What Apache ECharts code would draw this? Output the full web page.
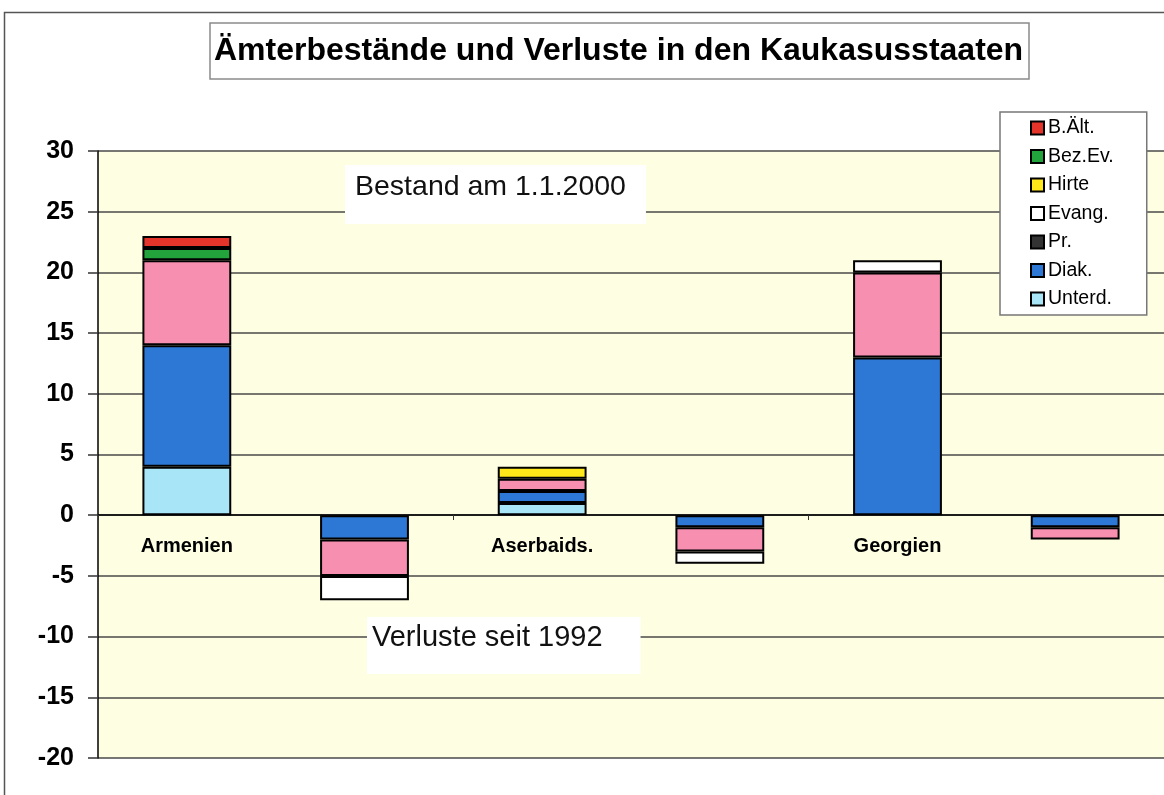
<!DOCTYPE html>
<html>
<head>
<meta charset="utf-8">
<title>Ämterbestände und Verluste in den Kaukasusstaaten</title>
<script src="https://cdn.jsdelivr.net/npm/echarts@6/dist/echarts.min.js"></script>
<style>
  html, body { margin: 0; padding: 0; background: #fff; }
  #chart { width: 1164px; height: 795px; }
</style>
</head>
<body>
<div id="chart"></div>
<script>
// categories: each country followed by its losses column (no label)
const categories = ['Armenien', 'Armenien Verluste', 'Aserbaids.', 'Aserbaids. Verluste', 'Georgien', 'Georgien Verluste']

// values per office, '-' = none
const unterd = [4, '-', 1, '-', '-', '-']
const diak   = [10, -2, 1, -1, 13, -1]
const pr     = [7, -3, 1, -2, 7, -1]
const evang  = ['-', -2, '-', -1, 1, '-']
const hirte  = ['-', '-', 1, '-', '-', '-']
const bezEv  = [1, '-', '-', '-', '-', '-']
const bAelt  = [1, '-', '-', '-', '-', '-']

const yTicks = [-20, -15, -10, -5, 0, 5, 10, 15, 20, 25, 30]

const font = 'Liberation Sans, Arial, sans-serif'

const chart = echarts.init(document.getElementById('chart'))

function bar(name, data, color) {
  return {
    name: name,
    type: 'bar',
    stack: 'total',
    barWidth: '50%',
    data: data,
    itemStyle: { color: color, borderColor: '#000', borderWidth: 2 },
    animation: false
  }
}

chart.setOption({
  animation: false,
  title: [{
    text: 'Ämterbestände und Verluste in den Kaukasusstaaten',
    left: 210,
    top: 23,
    padding: [12, 6, 12, 4],
    backgroundColor: '#fff',
    borderColor: '#8a8a8a',
    borderWidth: 1.5,
    textStyle: { fontFamily: font, fontSize: 32, fontWeight: 'bold', color: '#000' }
  }, {
    text: 'Bestand am 1.1.2000',
    left: 345,
    top: 165,
    padding: [8, 20, 22, 10],
    backgroundColor: '#fff',
    textStyle: { fontFamily: font, fontSize: 28.5, fontWeight: 'normal', color: '#111' }
  }, {
    text: 'Verluste seit 1992',
    left: 367,
    top: 617,
    padding: [6, 38, 22, 5],
    backgroundColor: '#fff',
    textStyle: { fontFamily: font, fontSize: 29, fontWeight: 'normal', color: '#111' }
  }],
  legend: {
    orient: 'vertical',
    left: 1000,
    top: 112,
    padding: [6, 33, 6, 30],
    itemGap: 8.5,
    itemWidth: 13,
    itemHeight: 13,
    icon: 'rect',
    backgroundColor: '#fff',
    borderColor: '#777',
    borderWidth: 1.5,
    itemStyle: { borderColor: '#000', borderWidth: 2 },
    textStyle: { fontFamily: font, fontSize: 19.5, color: '#000', lineHeight: 19, padding: [0, 0, 0, -1] },
    data: [
      'B.Ält.', 'Bez.Ev.', 'Hirte', 'Evang.',
      { name: 'Pr.', itemStyle: { color: '#333' } },
      'Diak.', 'Unterd.'
    ]
  },
  grid: {
    left: 98,
    top: 151,
    width: 1086,
    height: 607,
    show: true,
    backgroundColor: '#fefee3',
    borderWidth: 0
  },
  xAxis: {
    type: 'category',
    data: categories,
    offset: -243,
    axisLine: { onZero: false, lineStyle: { color: '#000', width: 1.5 } },
    axisTick: { show: true, length: 5, lineStyle: { color: '#333' } },
    axisLabel: {
      interval: 1,
      margin: 21,
      fontFamily: font,
      fontSize: 20,
      fontWeight: 'bold',
      color: '#000'
    },
    splitLine: { show: false }
  },
  yAxis: {
    type: 'value',
    min: yTicks[0],
    max: yTicks[yTicks.length - 1],
    interval: 5,
    axisLine: { show: true, onZero: false, lineStyle: { color: '#000', width: 1.5 } },
    axisTick: { show: true, length: 10, lineStyle: { color: '#333', width: 1.5 } },
    axisLabel: {
      margin: 24,
      fontFamily: font,
      fontSize: 25,
      fontWeight: 'bold',
      color: '#000'
    },
    splitLine: { show: true, lineStyle: { color: '#4a4a4a', width: 1.5 } }
  },
  graphic: [{
    type: 'rect',
    shape: { x: 4.5, y: 12.5, width: 1300, height: 900 },
    style: { fill: 'none', stroke: '#555', lineWidth: 1.5 },
    z: -10
  }],
  series: [
    bar('Unterd.', unterd, '#a8e6f7'),
    bar('Diak.', diak, '#2c78d4'),
    bar('Pr.', pr, '#f78fb0'),
    bar('Evang.', evang, '#ffffff'),
    bar('Hirte', hirte, '#ffe81a'),
    bar('Bez.Ev.', bezEv, '#22a33c'),
    bar('B.Ält.', bAelt, '#e5352b')
  ]
})
</script>
</body>
</html>
